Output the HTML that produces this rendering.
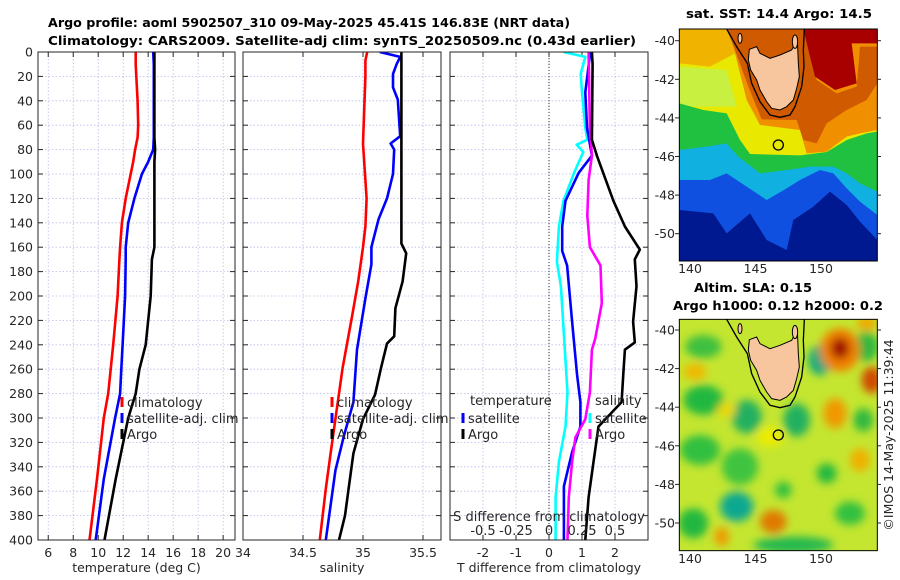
<!DOCTYPE html>
<html><head><meta charset="utf-8"><style>
html,body{margin:0;padding:0;background:#fff;}
svg{display:block;font-family:"DejaVu Sans","Liberation Sans",sans-serif;}
</style></head><body>
<svg id="fig" width="900" height="580" viewBox="0 0 900 580" xmlns="http://www.w3.org/2000/svg">
<defs>
<clipPath id="c1"><rect x="38" y="52" width="197" height="488"/></clipPath>
<clipPath id="c2"><rect x="243" y="52" width="198" height="488"/></clipPath>
<clipPath id="c3"><rect x="450" y="52" width="198" height="488"/></clipPath>
<clipPath id="cm"><rect x="58" y="87" width="594" height="696"/></clipPath>
<clipPath id="cm2"><rect x="58" y="118" width="594" height="694"/></clipPath>
<filter id="blur" x="-50%" y="-50%" width="200%" height="200%"><feGaussianBlur stdDeviation="13"/></filter>
</defs>
<text x="309" y="27" text-anchor="middle" font-weight="bold" font-size="12.5" textLength="522" lengthAdjust="spacingAndGlyphs">Argo profile: aoml 5902507_310 09-May-2025 45.41S 146.83E (NRT data)</text>
<text x="342" y="45" text-anchor="middle" font-weight="bold" font-size="12.5" textLength="588" lengthAdjust="spacingAndGlyphs">Climatology: CARS2009. Satellite-adj clim: synTS_20250509.nc (0.43d earlier)</text>
<g id="panels"></g>

<g>
<text x="779" y="18" text-anchor="middle" font-weight="bold" font-size="12.5" textLength="186" lengthAdjust="spacingAndGlyphs">sat. SST: 14.4 Argo: 14.5</text>
<g transform="translate(660,0) scale(0.33333)">
<g clip-path="url(#cm)">
<rect x="58" y="87" width="594" height="696" fill="#e8e800"/>
<polygon fill="#c8f040" points="58,200 200,210 230,320 58,320"/>
<polygon fill="#f0b400" points="58,87 205,87 225,160 150,200 58,190"/>
<polygon fill="#f09000" points="205,87 652,87 652,390 600,400 560,410 500,455 440,460 420,390 300,375 260,300 225,160"/>
<polygon fill="#d05a00" points="200,87 430,87 445,150 470,240 530,280 590,260 600,140 652,140 652,250 620,300 560,330 500,370 470,430 430,420 410,360 305,358 265,260 225,150"/>
<polygon fill="#a80000" points="430,87 652,87 652,130 575,130 590,250 525,270 465,230 445,150"/>
<polygon fill="#20c040" points="58,310 130,330 200,340 240,420 270,462 420,466 500,456 560,420 620,400 652,395 652,783 58,783"/>
<polygon fill="#10b0e0" points="58,450 140,440 200,430 235,470 300,520 380,510 450,500 520,500 560,520 600,550 652,575 652,783 58,783"/>
<polygon fill="#1050e0" points="58,540 150,540 200,520 260,560 320,600 380,565 420,540 480,510 520,520 560,565 600,605 652,645 652,783 58,783"/>
<polygon fill="#001890" points="58,630 160,640 200,700 270,640 320,720 380,750 400,660 460,620 510,575 560,615 600,665 652,720 652,783 58,783"/>
<g>
<path d="M200,87 L230,140 L262,190 L275,250 L300,305 L330,345 L360,352 L390,345 L405,320 L425,260 L432,200 L430,150 L433,87" fill="none" stroke="#000" stroke-width="4"/>
<path d="M268,148 L290,140 L300,160 L330,175 L360,165 L395,150 L412,118 L415,190 L418,230 L410,265 L400,300 L380,320 L360,330 L335,325 L320,305 L300,270 L290,240 L272,210 L265,180 Z" fill="#f8c69e" stroke="#000" stroke-width="3"/>
<ellipse cx="240" cy="115" rx="6" ry="15" fill="#f8c69e" stroke="#000" stroke-width="3"/>
<ellipse cx="405" cy="125" rx="8" ry="20" fill="#f8c69e" stroke="#000" stroke-width="3"/>
</g>
<circle cx="355" cy="435" r="15" fill="none" stroke="#000" stroke-width="4"/>
</g>
<rect x="58" y="87" width="594" height="696" fill="none" stroke="#000" stroke-width="3"/>
</g>
</g>

<g>
<text x="753" y="292" text-anchor="middle" font-weight="bold" font-size="12.5" textLength="118" lengthAdjust="spacingAndGlyphs">Altim. SLA: 0.15</text>
<text x="778" y="310" text-anchor="middle" font-weight="bold" font-size="12.5" textLength="210" lengthAdjust="spacingAndGlyphs">Argo h1000: 0.12 h2000: 0.2</text>
<g transform="translate(660,280) scale(0.33333)">
<g clip-path="url(#cm2)">
<rect x="58" y="118" width="594" height="694" fill="#c4e630"/>
<g filter="url(#blur)">
<ellipse cx="130" cy="360" rx="60" ry="45" fill="#20b840"/>
<ellipse cx="260" cy="410" rx="45" ry="50" fill="#20b060"/>
<ellipse cx="410" cy="420" rx="40" ry="50" fill="#20b060"/>
<ellipse cx="120" cy="510" rx="60" ry="45" fill="#30c040"/>
<ellipse cx="240" cy="560" rx="55" ry="55" fill="#40c440"/>
<ellipse cx="230" cy="680" rx="50" ry="45" fill="#10a890"/>
<ellipse cx="100" cy="730" rx="45" ry="45" fill="#20b840"/>
<ellipse cx="480" cy="240" rx="35" ry="45" fill="#10a880"/>
<ellipse cx="620" cy="200" rx="35" ry="45" fill="#30b840"/>
<ellipse cx="500" cy="580" rx="30" ry="30" fill="#20b840"/>
<ellipse cx="570" cy="700" rx="45" ry="35" fill="#30c040"/>
<ellipse cx="400" cy="795" rx="120" ry="25" fill="#20b850"/>
<ellipse cx="610" cy="420" rx="30" ry="35" fill="#30b840"/>
<ellipse cx="130" cy="200" rx="55" ry="35" fill="#40c040"/>
<ellipse cx="370" cy="630" rx="25" ry="25" fill="#30c040"/>
<ellipse cx="540" cy="210" rx="60" ry="65" fill="#f08000"/>
<ellipse cx="540" cy="205" rx="28" ry="32" fill="#a01000"/>
<ellipse cx="635" cy="300" rx="30" ry="40" fill="#d04800"/>
<ellipse cx="525" cy="400" rx="35" ry="45" fill="#f09800"/>
<ellipse cx="340" cy="725" rx="40" ry="35" fill="#e07800"/>
<ellipse cx="600" cy="540" rx="30" ry="35" fill="#f0b000"/>
<ellipse cx="105" cy="275" rx="35" ry="25" fill="#f0b800"/>
<ellipse cx="185" cy="770" rx="22" ry="28" fill="#f09800"/>
<ellipse cx="330" cy="470" rx="40" ry="30" fill="#ecec00"/>
<ellipse cx="620" cy="130" rx="30" ry="22" fill="#f0a800"/>
<ellipse cx="200" cy="390" rx="28" ry="22" fill="#ecd800"/>
</g>
<g transform="translate(0,31)">
<path d="M200,87 L230,140 L262,190 L275,250 L300,305 L330,345 L360,352 L390,345 L405,320 L425,260 L432,200 L430,150 L433,87" fill="none" stroke="#000" stroke-width="4"/>
<path d="M268,148 L290,140 L300,160 L330,175 L360,165 L395,150 L412,118 L415,190 L418,230 L410,265 L400,300 L380,320 L360,330 L335,325 L320,305 L300,270 L290,240 L272,210 L265,180 Z" fill="#f8c69e" stroke="#000" stroke-width="3"/>
<ellipse cx="240" cy="115" rx="6" ry="15" fill="#f8c69e" stroke="#000" stroke-width="3"/>
<ellipse cx="405" cy="125" rx="8" ry="20" fill="#f8c69e" stroke="#000" stroke-width="3"/>
</g>
<circle cx="355" cy="465" r="15" fill="none" stroke="#000" stroke-width="4"/>
</g>
<rect x="58" y="118" width="594" height="694" fill="none" stroke="#000" stroke-width="3"/>
</g>
<text transform="translate(893,435) rotate(-90)" text-anchor="middle" font-size="12.5" fill="#262626">©IMOS 14-May-2025 11:39:44</text>
</g>
<g id="mapaxes"></g>
</svg>
<script>
const depthT = [0,10,20,40,60,70,80,90,100,120,140,160,170,200,240,260,280,300,350,400];
const tempClim = [13.0,13.0,13.05,13.15,13.2,13.15,12.95,12.8,12.6,12.2,11.9,11.75,11.7,11.55,11.2,11.0,10.8,10.45,9.9,9.3];
const tempSat = [14.4,14.45,14.45,14.45,14.45,14.45,14.4,14.0,13.5,12.9,12.4,12.2,12.2,12.15,11.95,11.85,11.75,11.35,10.45,9.8];
const tempArgo = [14.5,14.5,14.5,14.5,14.5,14.5,14.55,14.5,14.5,14.5,14.5,14.5,14.3,14.2,13.8,13.3,13.0,12.4,11.4,10.5];
const tempTicks = [6,8,10,12,14,16,18,20];
const depthSClim = [0,7,20,75,120,143,160,188,216,259,287,329,358,400];
const salClim = [35.035,35.02,35.02,35.0,35.03,35.02,35.0,34.96,34.91,34.83,34.79,34.73,34.69,34.64];
const depthSSat = [0,4,10,18,29,39,69,75,80,100,120,137,160,174,202,244,287,315,343,400];
const salSat = [35.14,35.31,35.28,35.25,35.25,35.29,35.31,35.23,35.26,35.25,35.2,35.13,35.07,35.07,35.02,34.95,34.92,34.84,34.77,34.69];
const depthSArgo = [0,157,165,188,210,233,239,259,281,301,329,358,380,400];
const salArgo = [35.32,35.32,35.36,35.33,35.27,35.26,35.2,35.15,35.1,35.0,34.92,34.88,34.85,34.8];
const salTicks = [34,34.5,35,35.5];
const depthDTArgo = [0,10,72,85,122,143,162,170,192,221,238,244,264,287,307,336,365,400];
const dTArgo = [1.3,1.32,1.3,1.45,1.95,2.3,2.75,2.6,2.65,2.55,2.6,2.3,2.25,2.2,1.5,1.35,1.2,1.1];
const depthDTSat = [0,33,62,85,99,122,143,163,175,221,264,287,307,328,356,400];
const dTSat = [1.25,1.1,1.15,1.3,0.9,0.5,0.4,0.4,0.55,0.7,0.85,0.95,0.95,0.7,0.45,0.45];
const depthDSSat = [0,4,18,33,62,72,76,82,99,122,143,172,192,279,307,336,365,400];
const dSSat = [0.11,0.275,0.24,0.25,0.275,0.29,0.21,0.26,0.19,0.11,0.075,0.06,0.09,0.14,0.125,0.075,0.05,0.05];
const depthDSArgo = [0,62,85,105,134,160,175,206,235,244,279,301,316,336,365,400];
const dSArgo = [0.3,0.31,0.325,0.3,0.29,0.31,0.39,0.4,0.35,0.325,0.31,0.275,0.2,0.175,0.15,0.14];
const dTTicks = [-2,-1,0,1,2];
const dSTicks = [-0.5,-0.25,0,0.25,0.5];
const dSTickLabels = ['-0.5','-0.25','0','0.25','0.5'];
const depthTicks = [0,20,40,60,80,100,120,140,160,180,200,220,240,260,280,300,320,340,360,380,400];

const NS='http://www.w3.org/2000/svg';
const root=document.getElementById('panels');
const Y0=52,Y1=540;
const yScale=d=>Y0+(d/400)*(Y1-Y0);
function mk(tag,attrs,parent){const e=document.createElementNS(NS,tag);for(const k in attrs)e.setAttribute(k,attrs[k]);(parent||root).appendChild(e);return e;}
function txt(x,y,s,anchor,parent,size){const t=mk('text',{x:x,y:y,'text-anchor':anchor||'middle','font-size':size||12.5,fill:'#262626'},parent);t.textContent=s;return t;}

function panel(name,x0,x1,dom,ticks,tickLabels,xlabel,clip,showY){
  const g=mk('g',{});
  
  
  const xs=v=>x0+(v-dom[0])/(dom[1]-dom[0])*(x1-x0);
  ticks.forEach(v=>{const X=xs(v);mk('line',{x1:X,x2:X,y1:Y0,y2:Y1,stroke:'#b8bce8','stroke-width':0.8,'stroke-dasharray':'1.5,2'},g);});
  depthTicks.forEach(d=>{const Y=yScale(d);mk('line',{x1:x0,x2:x1,y1:Y,y2:Y,stroke:'#b8bce8','stroke-width':0.8,'stroke-dasharray':'1.5,2'},g);
    mk('line',{x1:x0,x2:x0+5,y1:Y,y2:Y,stroke:'#262626','stroke-width':1},g);
    mk('line',{x1:x1-5,x2:x1,y1:Y,y2:Y,stroke:'#262626','stroke-width':1},g);
    if(showY){const t=txt(x0-5,Y+4.5,String(d),'end',g);}
  });
  ticks.forEach((v,i)=>{const X=xs(v);
    mk('line',{x1:X,x2:X,y1:Y1-5,y2:Y1,stroke:'#262626','stroke-width':1},g);
    mk('line',{x1:X,x2:X,y1:Y0,y2:Y0+5,stroke:'#262626','stroke-width':1},g);
    const t=txt(X,Y1+17,tickLabels[i],'middle',g);});
  const xl=txt((x0+x1)/2,Y1+32,xlabel,'middle',g);
  
  
  const lines=mk('g',{'clip-path':'url(#'+clip+')'},g);
  return {g,xs,lines,x0,x1};
}
function series(p,depths,vals,color,name,scale){
  const pts=depths.map((d,i)=>(scale?scale(vals[i]):p.xs(vals[i])).toFixed(1)+','+yScale(d).toFixed(1)).join(' ');
  const l=mk('polyline',{points:pts,fill:'none',stroke:color,'stroke-width':2.6,'stroke-linejoin':'round'},p.lines);
  
  
}
function frame(p){mk('rect',{x:p.x0,y:Y0,width:p.x1-p.x0,height:Y1-Y0,fill:'none',stroke:'#262626','stroke-width':1},p.g);}
function legItem(p,x,y,color,label){
  mk('line',{x1:x,x2:x,y1:y-10,y2:y,stroke:color,'stroke-width':3},p.g);
  const t=txt(x+5,y,label,'start',p.g,13);
  
  
}

const p1=panel('temperature-panel',38,235,[5.18,20.95],tempTicks,tempTicks.map(String),'temperature (deg C)','c1',true);
series(p1,depthT,tempClim,'#ff0000','temp-climatology-line');
series(p1,depthT,tempSat,'#0000ff','temp-satellite-line');
series(p1,depthT,tempArgo,'#000000','temp-argo-line');
frame(p1);
legItem(p1,122,407,'#ff0000','climatology');
legItem(p1,122,423,'#0000ff','satellite-adj. clim');
legItem(p1,122,439,'#000000','Argo');

const p2=panel('salinity-panel',243,441,[34.0,35.65],salTicks,salTicks.map(String),'salinity','c2',false);
series(p2,depthSClim,salClim,'#ff0000','sal-climatology-line');
series(p2,depthSSat,salSat,'#0000ff','sal-satellite-line');
series(p2,depthSArgo,salArgo,'#000000','sal-argo-line');
frame(p2);
legItem(p2,332,407,'#ff0000','climatology');
legItem(p2,332,423,'#0000ff','satellite-adj. clim');
legItem(p2,332,439,'#000000','Argo');

const p3=panel('difference-panel',450,648,[-3,3],dTTicks,dTTicks.map(String),'T difference from climatology','c3',false);
mk('line',{x1:p3.xs(0),x2:p3.xs(0),y1:Y0,y2:Y1,stroke:'#333','stroke-width':1,'stroke-dasharray':'1,2'},p3.lines);
const sScale=v=>p3.xs(v*4);
series(p3,depthDSSat,dSSat,'#00ffff','sal-diff-satellite-line',sScale);
series(p3,depthDTSat,dTSat,'#0000ff','temp-diff-satellite-line');
series(p3,depthDSArgo,dSArgo,'#ff00ff','sal-diff-argo-line',sScale);
series(p3,depthDTArgo,dTArgo,'#000000','temp-diff-argo-line');
frame(p3);
const st=txt(549,521,'S difference from climatology','middle',p3.g,13);


dSTicks.forEach((v,i)=>{const t=txt(sScale(v),535,dSTickLabels[i],'middle',p3.g,13);});
const lt=txt(470,405,'temperature','start',p3.g,13);


const ls=txt(595,405,'salinity','start',p3.g,13);


legItem(p3,463,423,'#0000ff','satellite');
legItem(p3,463,439,'#000000','Argo');
legItem(p3,590,423,'#00ffff','satellite');
legItem(p3,590,439,'#ff00ff','Argo');

const ma=document.getElementById('mapaxes');
const latLabels=[-40,-42,-44,-46,-48,-50];
const lonLabels=[140,145,150];
function mapAxes(name,latY0,bottomY){
  const g=mk('g',{},ma);
  
  
  latLabels.forEach((lat,i)=>{const Y=latY0+i*2*19.3;
    txt(675,Y+4.5,String(lat),'end',g);
    mk('line',{x1:877,x2:881,y1:Y,y2:Y,stroke:'#262626'},g);
    mk('line',{x1:675,x2:679,y1:Y,y2:Y,stroke:'#262626'},g);});
  lonLabels.forEach(lon=>{const X=690+(lon-140)*13.1;
    txt(X,bottomY+12,String(lon),'middle',g);});
}
mapAxes('sst-map-axes',40.7,261);
mapAxes('sla-map-axes',330,551);
</script>
</body></html>
